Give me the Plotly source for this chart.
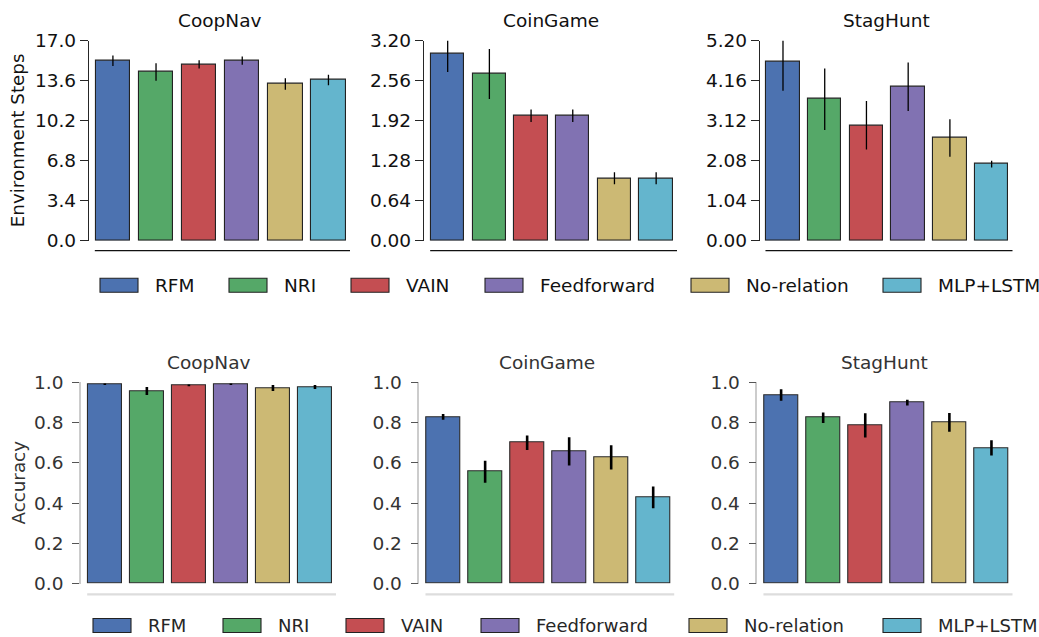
import plotly.graph_objects as go

W, H = 1039, 637

methods = ["RFM", "NRI", "VAIN", "Feedforward", "No-relation", "MLP+LSTM"]
colors = ["#4C72B0", "#55A868", "#C44E52", "#8172B2", "#CCB974", "#64B5CD"]
envs = ["CoopNav", "CoinGame", "StagHunt"]

# Top row: environment steps
steps_coopnav = [15.3, 14.34, 14.99, 15.3, 13.32, 13.66]
steps_coopnav_err = [0.45, 0.74, 0.35, 0.35, 0.48, 0.45]
steps_coingame = [3.00, 2.667, 2.00, 2.00, 1.00, 1.00]
steps_coingame_err = [0.30, 0.40, 0.10, 0.10, 0.096, 0.096]
steps_staghunt = [4.66, 3.68, 3.00, 4.00, 2.67, 1.99]
steps_staghunt_err = [0.76, 0.80, 0.63, 0.63, 0.49, 0.09]

# Bottom row: accuracy
acc_coopnav = [0.99, 0.957, 0.985, 0.99, 0.972, 0.977]
acc_coopnav_err = [0.004, 0.02, 0.004, 0.004, 0.015, 0.01]
acc_coingame = [0.828, 0.556, 0.70, 0.657, 0.627, 0.429]
acc_coingame_err = [0.014, 0.055, 0.036, 0.07, 0.06, 0.054]
acc_staghunt = [0.937, 0.824, 0.786, 0.899, 0.801, 0.674]
acc_staghunt_err = [0.029, 0.026, 0.06, 0.014, 0.047, 0.038]

ticks_coopnav_steps = [0.0, 3.4, 6.8, 10.2, 13.6, 17.0]
ticks_coingame_steps = [0.0, 0.64, 1.28, 1.92, 2.56, 3.20]
ticks_staghunt_steps = [0.0, 1.04, 2.08, 3.12, 4.16, 5.20]
ticks_acc = [0.0, 0.2, 0.4, 0.6, 0.8, 1.0]

FONT = "DejaVu Sans"

def px(x):
    return x / W

def py(y):
    return 1 - y / H

fig = go.Figure()

# panel geometry: (spine_x, right_x, range_left)
top_geom = [(89, 350, -0.555), (424, 677, -0.568), (760, 1012.5, -0.551)]
bot_geom = [(81, 336, -0.567), (419.3, 674.2, -0.567), (757.3, 1012.5, -0.566)]
top_y = (40.7, 240.7)
bot_y = (382.3, 583.7)

top_vals = [(steps_coopnav, steps_coopnav_err, ticks_coopnav_steps, "{:.1f}"),
            (steps_coingame, steps_coingame_err, ticks_coingame_steps, "{:.2f}"),
            (steps_staghunt, steps_staghunt_err, ticks_staghunt_steps, "{:.2f}")]
bot_vals = [(acc_coopnav, acc_coopnav_err, ticks_acc, "{:.1f}"),
            (acc_coingame, acc_coingame_err, ticks_acc, "{:.1f}"),
            (acc_staghunt, acc_staghunt_err, ticks_acc, "{:.1f}")]

layout = {}
shapes = []
annotations = []
idx = 0
for row, (geoms, vals, yb) in enumerate([(top_geom, top_vals, top_y), (bot_geom, bot_vals, bot_y)]):
    top_row = row == 0
    for j, (g, v) in enumerate(zip(geoms, vals)):
        idx += 1
        sx, rx, rl = g
        values, errs, ticks, fmt = v
        xa = "x" if idx == 1 else f"x{idx}"
        ya = "y" if idx == 1 else f"y{idx}"
        fig.add_trace(go.Bar(
            x=list(range(len(methods))), y=values, width=0.8,
            marker=dict(color=colors, line=dict(color="#222222" if top_row else "#2a2a2a", width=1.1)),
            error_y=dict(type="data", array=errs, color="black",
                         thickness=1.3 if top_row else 2.6, width=0),
            xaxis=xa, yaxis=ya, showlegend=False,
            hovertext=methods,
        ))
        xkey = "xaxis" if idx == 1 else f"xaxis{idx}"
        ykey = "yaxis" if idx == 1 else f"yaxis{idx}"
        layout[xkey] = dict(domain=[px(sx), px(rx)], range=[rl, 5.5], anchor=ya,
                            showticklabels=False, ticks="", showgrid=False,
                            zeroline=False, showline=False, fixedrange=True)
        spine_col = "#262626" if top_row else "#cccccc"
        tick_col = "#262626" if top_row else "#555555"
        txt_col = "#111111" if top_row else "#333333"
        ymax = ticks[-1]
        layout[ykey] = dict(domain=[py(yb[1]), py(yb[0])], range=[0, ymax], anchor=xa,
                            tickvals=ticks, ticktext=[fmt.format(t) for t in ticks],
                            ticks="outside", ticklen=8 if top_row else 7,
                            tickwidth=1.3, tickcolor=tick_col,
                            showline=True, linecolor=spine_col, linewidth=1.3 if top_row else 1.6,
                            showgrid=False, zeroline=False, fixedrange=True,
                            tickfont=dict(family=FONT, size=18.5, color=txt_col),
                            ticklabelstandoff=0 if top_row else 5)
        # trimmed bottom spine line below the axis
        ly = 250.7 if top_row else 594.3
        shapes.append(dict(type="line", xref=xa, yref="paper",
                           x0=-0.42, x1=5.55, y0=py(ly), y1=py(ly),
                           line=dict(color="#111111" if top_row else "#dddddd",
                                     width=1.3 if top_row else 2.2)))
        # panel title
        ty = 21 if top_row else 362.7
        annotations.append(dict(text=envs[j], xref="paper", yref="paper",
                                x=px((sx + rx) / 2), y=py(ty), xanchor="center", yanchor="middle",
                                showarrow=False,
                                font=dict(family=FONT, size=18.5, color="#111111" if top_row else "#333333")))

# y-axis titles
annotations.append(dict(text="Environment Steps", xref="paper", yref="paper",
                        x=px(17.5), y=py(140.7), textangle=-90, showarrow=False,
                        xanchor="center", yanchor="middle",
                        font=dict(family=FONT, size=18.3, color="#111111")))
annotations.append(dict(text="Accuracy", xref="paper", yref="paper",
                        x=px(17.5), y=py(483), textangle=-90, showarrow=False,
                        xanchor="center", yanchor="middle",
                        font=dict(family=FONT, size=18.3, color="#333333")))

# legends (drawn as wide swatches like the original)
top_leg_sw = [100, 229, 351, 485, 691, 883]
bot_leg_sw = [93, 223, 346, 481, 689, 883]
for (sws, cy, tcol, fs) in [(top_leg_sw, 285.3, "#111111", 18.5), (bot_leg_sw, 625.5, "#262626", 18)]:
    for k, m in enumerate(methods):
        x0 = sws[k]
        shapes.append(dict(type="rect", xref="paper", yref="paper",
                           x0=px(x0), x1=px(x0 + 38), y0=py(cy + 7), y1=py(cy - 7),
                           fillcolor=colors[k], line=dict(color="#222222", width=1.1)))
        annotations.append(dict(text=m, xref="paper", yref="paper",
                                x=px(x0 + 53), y=py(cy), xanchor="left", yanchor="middle",
                                showarrow=False,
                                font=dict(family=FONT, size=fs, color=tcol)))

fig.update_layout(
    autosize=True,
    margin=dict(l=0, r=0, t=0, b=0, autoexpand=False),
    paper_bgcolor="white", plot_bgcolor="white",
    bargap=0, showlegend=False, hovermode=False,
    shapes=shapes, annotations=annotations,
    **layout,
)

fig.write_html("out.html", default_width="100vw", default_height="100vh",
               config=dict(displayModeBar=False, responsive=True),
               post_script="document.body.style.margin='0';document.body.style.padding='0';document.documentElement.style.overflow='hidden';")
